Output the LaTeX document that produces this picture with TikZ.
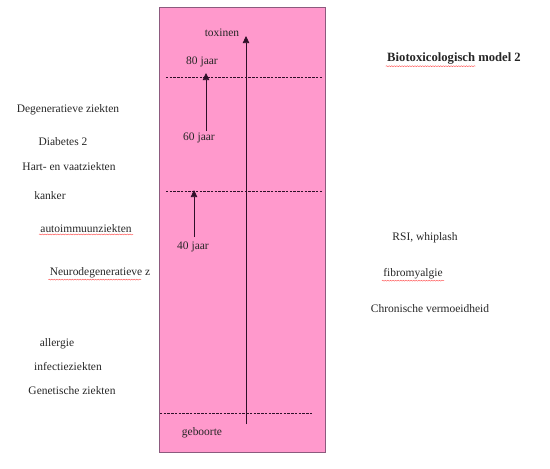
\documentclass[tikz,border=0pt]{standalone}
\usepackage{fontspec}
\setmainfont{Liberation Serif}
\usepackage{tikz}
\usetikzlibrary{arrows.meta, decorations.pathmorphing}

\definecolor{bandpink}{HTML}{FF99CC}
\definecolor{bandedge}{HTML}{8C5A7E}
\definecolor{lineink}{HTML}{2E1028}

\begin{document}
\begin{tikzpicture}[
    x=0.03cm, y=-0.03cm,
    every node/.style={font=\fontsize{9.8}{11}\selectfont,inner sep=1pt,text=black!85},
    band/.style={fill=bandpink,draw=bandedge,line width=0.8pt},
    agedash/.style={draw=lineink,dashed,dash pattern=on 2pt off 1.2pt,line width=0.5pt},
    agearrow/.style={draw=lineink,line width=0.6pt,-{Triangle[width=5.5pt,length=6pt]}},
    spell/.style={draw=red!70,line width=0.35pt,decorate,decoration={snake,amplitude=0.4pt,segment length=2.2pt}}
  ]
  \useasboundingbox (0,0) rectangle (550,469);

  % de roze band
  \draw[band] (159,7) rectangle (325,452);
  \draw[agedash] (166,77) -- (323,77);
  \draw[agedash] (166,191) -- (323,191);
  \draw[agedash] (160,413) -- (313,413);

  % leeftijden en pijlen
  \node (tox) at (222,33) {toxinen};
  \node (j80) at (202,62) {80 jaar};
  \node (j60) at (199,138) {60 jaar};
  \node (j40) at (193,247) {40 jaar};
  \node (geb) at (202,433) {geboorte};
  \coordinate (start) at (246,424);
  \coordinate (top) at (246,36);
  \coordinate (d80) at (206,73);
  \coordinate (d40) at (194,190);
  \draw[agearrow] (start) -- (top);
  \draw[agearrow] (206,131) -- (d80);
  \draw[agearrow] (194,237) -- (d40);

  % ziekten links
  \node (degen) at (68,110) {Degeneratieve ziekten};
  \node (diab) at (63,142) {Diabetes 2};
  \node (hart) at (69,167) {Hart- en vaatziekten};
  \node (kank) at (50,196) {kanker};
  \node (auto) at (86,229) {autoimmuunziekten};
  \node (neuro) at (100,273) {Neurodegeneratieve z};
  \node (aller) at (57,344) {allergie};
  \node (infec) at (68,367) {infectieziekten};
  \node (genet) at (72,391) {Genetische ziekten};

  % rechts
  \node (titel) at (454,59) {\fontsize{10.8}{12}\selectfont\bfseries Biotoxicologisch model 2};
  \node (rsi) at (425,238) {RSI, whiplash};
  \node (fibro) at (413,274) {fibromyalgie};
  \node (chron) at (430,309) {Chronische vermoeidheid};

  % rode kronkels van de spellingcontrole
  \draw[spell] (auto.south west) -- (auto.south east);
  \draw[spell] (neuro.south west) -- ([xshift=-9pt]neuro.south east);
  \draw[spell] (titel.south west) -- ([xshift=-40pt]titel.south east);
  \draw[spell] (fibro.south west) -- (fibro.south east);
\end{tikzpicture}
\end{document}
